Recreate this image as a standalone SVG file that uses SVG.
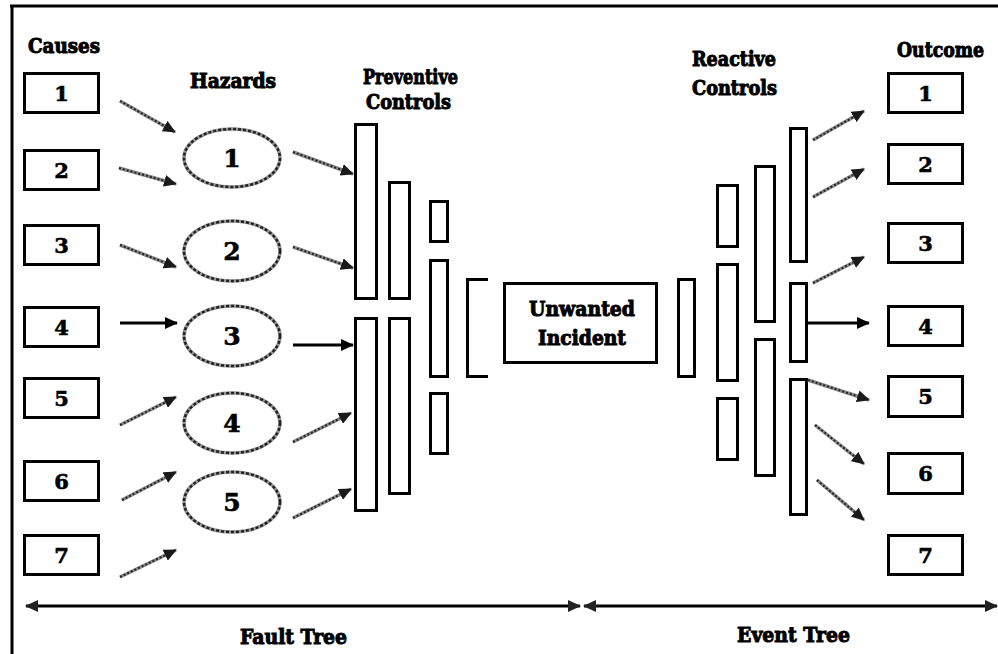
<svg xmlns="http://www.w3.org/2000/svg" width="998" height="654" viewBox="0 0 998 654">
  <style>
    .frame { fill: none; stroke: #000; stroke-width: 3; }
    .box { fill: #fff; stroke: #000; stroke-width: 3; }
    .bar { fill: #fff; stroke: #000; stroke-width: 3; }
    .haz { fill: #fff; stroke: #9a9a9a; stroke-width: 3.5; }
    .hazdash { fill: none; stroke: #222; stroke-width: 2.5; stroke-dasharray: 3 2; }
    .lbl { font-family: "DejaVu Serif", "Liberation Serif", serif; font-weight: bold; font-size: 20px; fill: #000; stroke: #000; stroke-width: 1; }
    .num { font-family: "DejaVu Serif", "Liberation Serif", serif; font-weight: bold; font-size: 21px; fill: #000; stroke: #000; stroke-width: 0.6; text-anchor: middle; }
    .hnum { font-family: "DejaVu Serif", "Liberation Serif", serif; font-weight: bold; font-size: 25px; fill: #000; stroke: #000; stroke-width: 0.6; text-anchor: middle; }
    .solid { fill: none; stroke: #000; stroke-width: 3; marker-end: url(#head); }
    .hatch { fill: none; stroke: #8a8a8a; stroke-width: 3.5; marker-end: url(#headGrey); }
    .hatchTop { fill: none; stroke: #222; stroke-width: 2; stroke-dasharray: 2 2; }
    .axis { fill: none; stroke: #000; stroke-width: 3; }
  </style>
  <defs>
    <marker id="head" markerUnits="userSpaceOnUse" markerWidth="14" markerHeight="12" refX="12" refY="6" orient="auto">
      <path d="M0,0 L13,6 L0,12 z" fill="#000"/>
    </marker>
    <marker id="headGrey" markerUnits="userSpaceOnUse" markerWidth="14" markerHeight="12" refX="12" refY="6" orient="auto">
      <path d="M0,0 L13,6 L0,12 z" fill="#1a1a1a"/>
    </marker>
    <marker id="axisHead" markerUnits="userSpaceOnUse" markerWidth="14" markerHeight="12" refX="12" refY="6" orient="auto-start-reverse">
      <path d="M0,0 L13,6 L0,12 z" fill="#222"/>
    </marker>
  </defs>

  <rect width="998" height="654" fill="#fff"/>

  <!-- outer frame: top and left rules -->
  <path class="frame" d="M10,6 H998 M12,6 V654"/>

  <!-- column headings -->
  <text class="lbl" x="28" y="53" textLength="72" lengthAdjust="spacingAndGlyphs">Causes</text>
  <text class="lbl" x="190" y="88" textLength="86" lengthAdjust="spacingAndGlyphs">Hazards</text>
  <text class="lbl" x="363" y="84" textLength="95" lengthAdjust="spacingAndGlyphs">Preventive</text>
  <text class="lbl" x="366" y="109" textLength="85" lengthAdjust="spacingAndGlyphs">Controls</text>
  <text class="lbl" x="692" y="66" textLength="84" lengthAdjust="spacingAndGlyphs">Reactive</text>
  <text class="lbl" x="692" y="95" textLength="85" lengthAdjust="spacingAndGlyphs">Controls</text>
  <text class="lbl" x="897" y="57" font-size="17" textLength="87" lengthAdjust="spacingAndGlyphs">Outcome</text>

  <!-- causes -->
  <g id="cause-1"><rect class="box" x="24.5" y="73.5" width="74" height="39"/><text class="num" x="61.5" y="101">1</text></g>
  <g id="cause-2"><rect class="box" x="24.5" y="150.5" width="74" height="39"/><text class="num" x="61.5" y="178">2</text></g>
  <g id="cause-3"><rect class="box" x="24.5" y="225.5" width="74" height="39"/><text class="num" x="61.5" y="253">3</text></g>
  <g id="cause-4"><rect class="box" x="24.5" y="307.5" width="74" height="39"/><text class="num" x="61.5" y="335">4</text></g>
  <g id="cause-5"><rect class="box" x="24.5" y="378.5" width="74" height="39"/><text class="num" x="61.5" y="406">5</text></g>
  <g id="cause-6"><rect class="box" x="24.5" y="461.5" width="74" height="39"/><text class="num" x="61.5" y="489">6</text></g>
  <g id="cause-7"><rect class="box" x="24.5" y="535.5" width="74" height="39"/><text class="num" x="61.5" y="563">7</text></g>

  <!-- hazards -->
  <g id="hazard-1"><ellipse class="haz" cx="232" cy="158" rx="48" ry="29"/><ellipse class="hazdash" cx="232" cy="158" rx="48" ry="29"/><text class="hnum" x="232" y="167">1</text></g>
  <g id="hazard-2"><ellipse class="haz" cx="232" cy="251" rx="48" ry="30"/><ellipse class="hazdash" cx="232" cy="251" rx="48" ry="30"/><text class="hnum" x="232" y="260">2</text></g>
  <g id="hazard-3"><ellipse class="haz" cx="232" cy="336" rx="48" ry="30"/><ellipse class="hazdash" cx="232" cy="336" rx="48" ry="30"/><text class="hnum" x="232" y="345">3</text></g>
  <g id="hazard-4"><ellipse class="haz" cx="232" cy="423" rx="48" ry="30"/><ellipse class="hazdash" cx="232" cy="423" rx="48" ry="30"/><text class="hnum" x="232" y="432">4</text></g>
  <g id="hazard-5"><ellipse class="haz" cx="232" cy="502" rx="48" ry="30"/><ellipse class="hazdash" cx="232" cy="502" rx="48" ry="30"/><text class="hnum" x="232" y="511">5</text></g>

  <!-- preventive control barriers -->
  <g id="preventive-controls">
    <rect class="bar" x="355.5" y="124.5" width="21" height="174"/>
    <rect class="bar" x="389.5" y="182.5" width="20" height="116"/>
    <rect class="bar" x="430.5" y="201.5" width="17" height="40"/>
    <rect class="bar" x="430.5" y="260.5" width="17" height="116"/>
    <rect class="bar" x="430.5" y="393.5" width="17" height="60"/>
    <rect class="bar" x="355.5" y="318.5" width="21" height="192"/>
    <rect class="bar" x="389.5" y="318.5" width="20" height="175"/>
    <path class="frame" d="M488,279.5 H467.5 V376.5 H488"/>
  </g>

  <!-- top event -->
  <g id="unwanted-incident">
    <rect class="box" x="504.5" y="283.5" width="152" height="79"/>
    <text class="lbl" x="529" y="316" textLength="106" lengthAdjust="spacingAndGlyphs">Unwanted</text>
    <text class="lbl" x="538" y="345" textLength="88" lengthAdjust="spacingAndGlyphs">Incident</text>
  </g>

  <!-- reactive control barriers -->
  <g id="reactive-controls">
    <rect class="bar" x="678.5" y="279.5" width="16" height="97"/>
    <rect class="bar" x="717.5" y="185.5" width="20" height="61"/>
    <rect class="bar" x="717.5" y="264.5" width="20" height="116"/>
    <rect class="bar" x="717.5" y="398.5" width="20" height="61"/>
    <rect class="bar" x="755.5" y="166.5" width="19" height="155"/>
    <rect class="bar" x="755.5" y="339.5" width="19" height="136"/>
    <rect class="bar" x="790.5" y="128.5" width="16" height="133"/>
    <rect class="bar" x="790.5" y="283.5" width="16" height="78"/>
    <rect class="bar" x="790.5" y="379.5" width="16" height="135"/>
  </g>

  <!-- outcomes -->
  <g id="outcome-1"><rect class="box" x="888.5" y="73.5" width="74" height="39"/><text class="num" x="925.5" y="101">1</text></g>
  <g id="outcome-2"><rect class="box" x="888.5" y="144.5" width="74" height="39"/><text class="num" x="925.5" y="172">2</text></g>
  <g id="outcome-3"><rect class="box" x="888.5" y="223.5" width="74" height="39"/><text class="num" x="925.5" y="251">3</text></g>
  <g id="outcome-4"><rect class="box" x="888.5" y="306.5" width="74" height="39"/><text class="num" x="925.5" y="334">4</text></g>
  <g id="outcome-5"><rect class="box" x="888.5" y="376.5" width="74" height="40"/><text class="num" x="925.5" y="404">5</text></g>
  <g id="outcome-6"><rect class="box" x="888.5" y="453.5" width="74" height="40"/><text class="num" x="925.5" y="481">6</text></g>
  <g id="outcome-7"><rect class="box" x="888.5" y="535.5" width="74" height="39"/><text class="num" x="925.5" y="563">7</text></g>

  <!-- connectors -->
  <g id="connectors">
    <!-- causes to hazards -->
    <path class="hatch" d="M120,101 L175,132"/><path class="hatchTop" d="M120,101 L165,126.5"/>
    <path class="hatch" d="M119,168 L176,184"/><path class="hatchTop" d="M119,168 L165,181"/>
    <path class="hatch" d="M120,245 L176,267"/><path class="hatchTop" d="M120,245 L165,262.7"/>
    <path class="solid" d="M120,323 L177,323"/>
    <path class="hatch" d="M120,425 L176,397"/><path class="hatchTop" d="M120,425 L165,402.5"/>
    <path class="hatch" d="M122,500 L176,472"/><path class="hatchTop" d="M122,500 L165,477.7"/>
    <path class="hatch" d="M120,577 L176,550"/><path class="hatchTop" d="M120,577 L165,555.3"/>

    <!-- hazards to preventive controls -->
    <path class="hatch" d="M293,152 L353,174"/><path class="hatchTop" d="M293,152 L342,170"/>
    <path class="hatch" d="M293,247 L353,268"/><path class="hatchTop" d="M293,247 L342,264.2"/>
    <path class="solid" d="M293,345 L353,345"/>
    <path class="hatch" d="M293,442 L351,413"/><path class="hatchTop" d="M293,442 L340,418.5"/>
    <path class="hatch" d="M293,518 L351,489"/><path class="hatchTop" d="M293,518 L340,494.5"/>

    <!-- reactive controls to outcomes -->
    <path class="hatch" d="M813,140 L864,111"/><path class="hatchTop" d="M813,140 L853,117.3"/>
    <path class="hatch" d="M813,197 L864,169"/><path class="hatchTop" d="M813,197 L853,175"/>
    <path class="hatch" d="M813,283 L864,257"/><path class="hatchTop" d="M813,283 L853,262.6"/>
    <path class="solid" d="M808,323 L869,323"/>
    <path class="hatch" d="M808,380 L869,400"/><path class="hatchTop" d="M808,380 L858,396.4"/>
    <path class="hatch" d="M815,425 L864,464"/><path class="hatchTop" d="M815,425 L855,456.8"/>
    <path class="hatch" d="M817,480 L864,520"/><path class="hatchTop" d="M817,480 L856,513.2"/>

    <!-- fault tree / event tree spans -->
    <path class="axis" d="M26,606 L580,606" marker-start="url(#axisHead)" marker-end="url(#axisHead)"/>
    <path class="axis" d="M584,606 L997,606" marker-start="url(#axisHead)" marker-end="url(#axisHead)"/>
  </g>

  <text class="lbl" x="240" y="644" textLength="107" lengthAdjust="spacingAndGlyphs">Fault Tree</text>
  <text class="lbl" x="737" y="642" textLength="113" lengthAdjust="spacingAndGlyphs">Event Tree</text>
</svg>
